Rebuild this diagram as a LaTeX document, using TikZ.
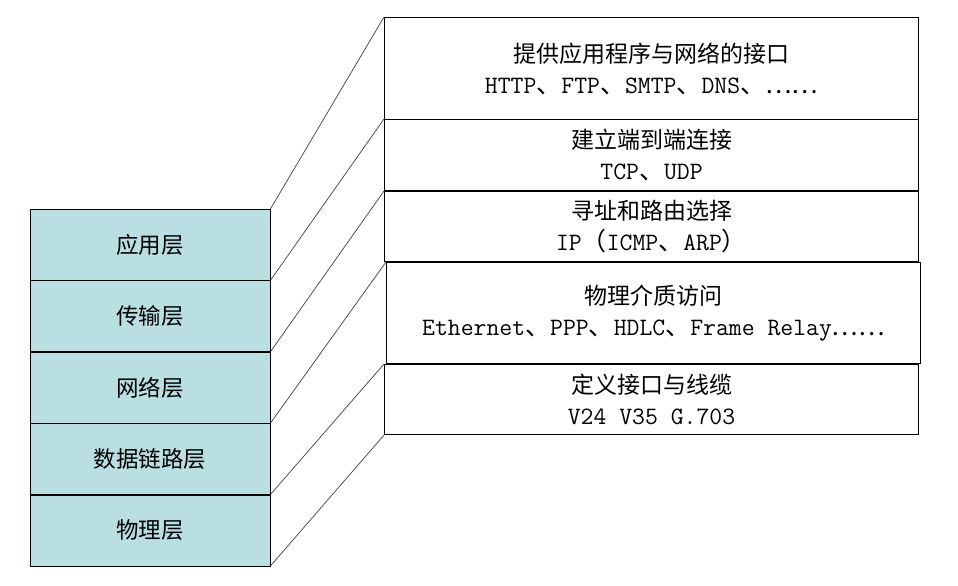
\documentclass[tikz,border=0pt]{standalone}
\usepackage{fontspec}
\newfontfamily\cjk{Noto Sans CJK SC}
\newcommand\zh[1]{{\cjk #1}}
\usetikzlibrary{positioning}
\definecolor{layerfill}{RGB}{185,223,226}

\begin{document}
\begin{tikzpicture}[x=1pt,y=-1pt,
  layer/.style={rectangle,draw,fill=layerfill,minimum width=240pt,minimum height=71pt,inner sep=0pt,font=\cjk\fontsize{22.5}{26}\selectfont},
  duty/.style={rectangle,draw,line width=1.1pt,minimum width=534pt,inner sep=0pt,align=center,font=\ttfamily\fontsize{25}{31}\selectfont},
  joiner/.style={draw=black!75,line width=0.7pt}
]
\useasboundingbox (0,0) rectangle (958,586);
% layers
\node[layer,anchor=north west] (app) at (30,209) {应用层};
\node[layer,below=0pt of app] (tcp) {传输层};
\node[layer,below=0pt of tcp] (ip) {网络层};
\node[layer,below=0pt of ip] (dl) {数据链路层};
\node[layer,below=0pt of dl] (phy) {物理层};
% what each layer does
\node[duty,minimum height=102pt,anchor=north west] (appd) at (384,17) {\zh{\fontsize{23}{31}\selectfont 提供应用程序与网络的接口}\\HTTP\zh{、}FTP\zh{、}SMTP\zh{、}DNS\zh{、……}};
\node[duty,minimum height=71pt,anchor=north west] (tcpd) at (384,119) {\zh{\fontsize{23}{31}\selectfont 建立端到端连接}\\TCP\zh{、}UDP};
\node[duty,minimum height=70pt,anchor=north west] (ipd) at (384,191) {\zh{\fontsize{23}{31}\selectfont 寻址和路由选择}\\IP\zh{（}ICMP\zh{、}ARP\zh{）}};
\node[duty,minimum height=101pt,anchor=north west] (dld) at (386,262) {\zh{\fontsize{23}{31}\selectfont 物理介质访问}\\Ethernet\zh{、}PPP\zh{、}HDLC\zh{、}Frame Relay\zh{……}};
\node[duty,minimum height=70pt,anchor=north west] (phyd) at (384,364) {\zh{\fontsize{23}{31}\selectfont 定义接口与线缆}\\ V24 V35 G.703};
% zoom lines
\draw[joiner] (app.north east) -- (appd.north west);
\draw[joiner] (tcp.north east) -- (tcpd.north west);
\draw[joiner] (ip.north east) -- (ipd.north west);
\draw[joiner] (dl.north east) -- (dld.north west);
\draw[joiner] (phy.north east) -- (phyd.north west);
\draw[joiner] (phy.south east) -- (phyd.south west);
\end{tikzpicture}
\end{document}
